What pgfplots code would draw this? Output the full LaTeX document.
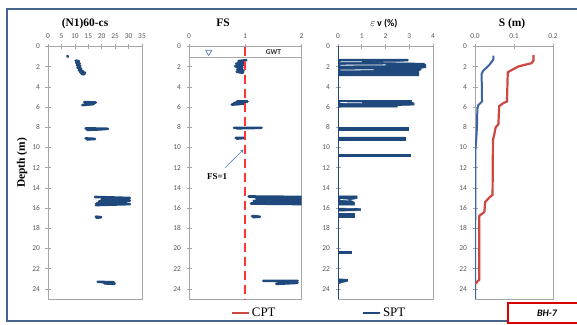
\documentclass[border=0pt]{standalone}
\usepackage{pgfplots}
\pgfplotsset{compat=1.18}
\usepackage{fontspec}
\setmainfont{Liberation Serif}
\newfontfamily\calfont{Carlito}
\definecolor{axgray}{RGB}{166,166,166}
\definecolor{lblgray}{RGB}{89,89,89}
\definecolor{dblue}{RGB}{31,73,125}
\definecolor{sblue}{RGB}{60,100,165}
\definecolor{sred}{RGB}{205,72,66}
\definecolor{fsred}{RGB}{255,51,51}
\definecolor{framec}{RGB}{70,100,140}
\definecolor{arrowc}{RGB}{79,129,189}
\pgfplotsset{
  panel/.style={
    scale only axis, height=252.5bp, anchor=south west,
    y dir=reverse, ymin=0, ymax=25, ytick={0,2,...,24},
    axis line style={draw=axgray, line width=0.7bp},
    every tick/.style={draw=axgray, line width=0.7bp},
    major tick length=5bp, tick align=center,
    xtick pos=right, xticklabel pos=right, ytick pos=left,
    tick label style={font=\calfont\fontsize{7.5}{8}\selectfont, text=lblgray},
    /pgf/number format/assume math mode=true,
    xticklabel style={yshift=2bp},
    yticklabel style={xshift=-2bp},
    clip=true,
  },
  band/.style={dblue, line width=2.6bp, line join=round, line cap=round, mark=none},
  spike/.style={draw=dblue, fill=dblue, line width=0.6bp, line join=miter, mark=none},
  gap/.style={white, line width=0.8bp, mark=none},
}
\begin{document}
\begin{tikzpicture}
\useasboundingbox (0,0) rectangle (577bp,325bp);
\draw[framec, line width=1.3bp] (580bp,316bp) -- (7bp,316bp) -- (7bp,4bp) -- (580bp,4bp);
\node[rotate=90, font=\bfseries\fontsize{11.5}{12}\selectfont] at (22bp,162bp) {Depth (m)};
\node[anchor=base, font=\bfseries\fontsize{11.5}{12}\selectfont] at (85bp,298bp) {(N1)60-cs};
\node[anchor=base, font=\bfseries\fontsize{11.5}{12}\selectfont] at (223bp,298bp) {FS};
\node[anchor=base] at (384bp,298bp) {{\fontsize{11}{12}\selectfont$\varepsilon$}{\calfont\bfseries\fontsize{10}{12}\selectfont\,v (\%)}};
\node[anchor=base, font=\bfseries\fontsize{11.5}{12}\selectfont] at (512bp,298bp) {S (m)};
% ---------------- panel 1
\begin{axis}[panel, at={(48bp,26bp)}, width=94bp, xmin=0, xmax=35, xtick={0,5,...,35}]
\addplot[band] coordinates {(7.2,0.95) (7.4,1.0)};
\addplot[band] coordinates {(10.3,1.4) (11.5,1.45) (10.5,1.6) (11.8,1.7) (10.8,1.85) (12,1.95) (11,2.1) (12.3,2.2) (11.5,2.35) (13,2.45) (12,2.55) (13.8,2.6) (12.5,2.7) (13.5,2.75)};
\addplot[band] coordinates {(13.5,5.5) (17.8,5.55) (14,5.65) (17,5.7) (12.8,5.8) (15,5.75)};
\addplot[band] coordinates {(14,8.1) (22.3,8.15) (14.5,8.25) (20,8.2)};
\addplot[band] coordinates {(14,9.1) (17.5,9.15) (14.5,9.2)};
\addplot[band] coordinates {(17.5,14.9) (30.5,15.0) (20,15.15) (30.5,15.25) (19,15.35) (29,15.45) (18,15.55) (30.5,15.6) (17.8,15.7)};
\addplot[band] coordinates {(17.8,16.85) (19.8,16.9) (18,16.95)};
\addplot[band] coordinates {(18.5,23.3) (24.5,23.35) (21,23.45) (24.8,23.5)};
\end{axis}
% ---------------- panel 2
\begin{axis}[panel, at={(189bp,26bp)}, width=112.5bp, xmin=0, xmax=2, xtick={0,1,2},
  legend style={at={(0.58,-0.02)}, anchor=north, draw=none, fill=none,
    font=\fontsize{13}{14}\selectfont, legend cell align=left},
  legend image post style={line width=2bp}]
\addlegendimage{sred, line width=2bp}
\addlegendentry{CPT}
\addplot[axgray, line width=0.7bp, forget plot] coordinates {(0,1.1) (2,1.1)};
\addplot[only marks, mark=triangle, mark size=3.5bp, mark options={rotate=180, draw=arrowc, fill=white, line width=0.7bp}, forget plot] coordinates {(0.35,0.55)};
\node[font=\calfont\bfseries\fontsize{7.5}{8}\selectfont, text=black!80] at (axis cs:1.5,0.55) {GWT};
\addplot[band, forget plot] coordinates {(1.02,1.35) (0.88,1.45) (0.98,1.6) (0.84,1.7) (0.96,1.85) (0.82,1.95) (0.95,2.1) (0.86,2.25) (0.97,2.4) (0.85,2.5) (0.96,2.6)};
\addplot[band, forget plot] coordinates {(0.85,5.45) (1.04,5.45) (0.8,5.6) (0.98,5.65) (0.76,5.75) (0.9,5.7)};
\addplot[band, forget plot] coordinates {(0.8,8.05) (1.29,8.05) (0.85,8.1)};
\addplot[band, forget plot] coordinates {(0.83,9.05) (0.99,9.05) (0.85,9.12)};
\addplot[band, forget plot] coordinates {(1.06,14.85) (2.05,14.9) (1.2,15.05) (2.05,15.15) (1.15,15.3) (2.05,15.4) (1.1,15.55) (2.05,15.6)};
\addplot[band, forget plot] coordinates {(1.12,16.8) (1.26,16.85) (1.14,16.9)};
\addplot[band, forget plot] coordinates {(1.32,23.2) (1.93,23.2) (1.6,23.35) (1.93,23.4) (1.55,23.5)};
\addplot[fsred, line width=2.2bp, dash pattern=on 9bp off 5bp, forget plot] coordinates {(1,0) (1,25)};
\node[font=\bfseries\fontsize{9}{10}\selectfont] at (axis cs:0.5,12.9) {FS=1};
\draw[-stealth, arrowc, line width=0.6bp] (axis cs:0.64,12.0) -- (axis cs:0.97,10.2);
\end{axis}
% ---------------- panel 3
\begin{axis}[panel, at={(338bp,26bp)}, width=95bp, xmin=0, xmax=4, xtick={0,1,...,4},
  legend style={at={(0.49,-0.02)}, anchor=north, draw=none, fill=none,
    font=\fontsize{13}{14}\selectfont, legend cell align=left}]
\addlegendimage{dblue, line width=2.2bp}
\addlegendentry{SPT}
\addplot[spike, forget plot] coordinates {(0,1.25) (2.95,1.25) (2.95,1.45) (1.2,1.5) (2.0,1.6) (3.6,1.65) (3.7,1.8) (3.7,2.1) (3.5,2.15) (3.5,2.3) (3.4,2.4) (3.4,2.9) (0,2.9)} \closedcycle;
\addplot[gap, forget plot] coordinates {(0.1,1.85) (2.0,1.82)};
\addplot[gap, forget plot] coordinates {(0.1,2.33) (1.5,2.3)};
\addplot[gap, forget plot] coordinates {(0.1,1.52) (1.0,1.5)};
\addplot[spike, forget plot] coordinates {(0,5.35) (3.1,5.35) (3.1,5.5) (3.2,5.6) (3.2,5.8) (2.5,5.85) (2.5,6.0) (0,6.0)} \closedcycle;
\addplot[gap, forget plot] coordinates {(0.1,5.55) (1.0,5.58)};
\addplot[spike, forget plot] coordinates {(0,8.0) (2.95,8.0) (2.95,8.3) (0,8.3)} \closedcycle;
\addplot[spike, forget plot] coordinates {(0,8.95) (2.85,8.95) (2.85,9.25) (0,9.25)} \closedcycle;
\addplot[spike, forget plot] coordinates {(0,10.7) (3.05,10.7) (3.05,10.9) (0,10.9)} \closedcycle;
\addplot[spike, forget plot] coordinates {(0,14.8) (0.8,14.8) (0.8,15.05) (0.45,15.2) (0.6,15.3) (0.7,15.45) (0.7,15.7) (0,15.7)} \closedcycle;
\addplot[gap, forget plot] coordinates {(0.1,15.15) (0.45,15.2)};
\addplot[spike, forget plot] coordinates {(0,16.0) (0.95,16.05) (0.95,16.25) (0,16.3)} \closedcycle;
\addplot[spike, forget plot] coordinates {(0,16.55) (0.68,16.55) (0.68,16.95) (0,16.95)} \closedcycle;
\addplot[spike, forget plot] coordinates {(0,20.3) (0.55,20.3) (0.55,20.5) (0,20.5)} \closedcycle;
\addplot[spike, forget plot] coordinates {(0,23.0) (0.4,23.05) (0.4,23.25) (0.2,23.35) (0,23.5)} \closedcycle;
\addplot[dblue, line width=2bp, mark=none, forget plot] coordinates {(0,0.9) (0,25)};
\end{axis}
% ---------------- panel 4
\begin{axis}[panel, at={(475bp,26bp)}, width=78bp, xmin=0, xmax=0.2, xtick={0,0.1,0.2},
  xticklabel style={/pgf/number format/.cd, fixed, fixed zerofill, precision=1}]
\addplot[sblue, line width=2bp, mark=none] coordinates {
(0.047,0.9) (0.047,1.3) (0.035,1.9) (0.021,2.4) (0.017,2.7) (0.018,5.45) (0.0085,5.8) (0.006,6.2) (0.005,8.0) (0.003,9.3) (0.001,10.3) (0.001,17) (0.0,17.5) (0,25)};
\addplot[sred, line width=2.2bp, mark=none] coordinates {
(0.15,0.84) (0.15,1.4) (0.145,1.65) (0.111,1.98) (0.098,2.25) (0.084,2.55) (0.082,5.45) (0.073,5.6) (0.062,5.9) (0.06,7.7) (0.053,8.0) (0.05,8.6) (0.047,9.1) (0.046,9.3) (0.045,14.7) (0.038,14.9) (0.026,15.4) (0.024,16.4) (0.013,16.7) (0.011,16.8) (0.011,23.1) (0.005,23.3) (0.003,23.5)};
\end{axis}
% BH-7 label box
\draw[red!85!black, line width=1.4bp, fill=white] (508bp,2bp) rectangle (582bp,22bp);
\node[font=\calfont\bfseries\itshape\fontsize{10}{11}\selectfont] at (547bp,12bp) {BH-7};
\end{tikzpicture}
\end{document}
